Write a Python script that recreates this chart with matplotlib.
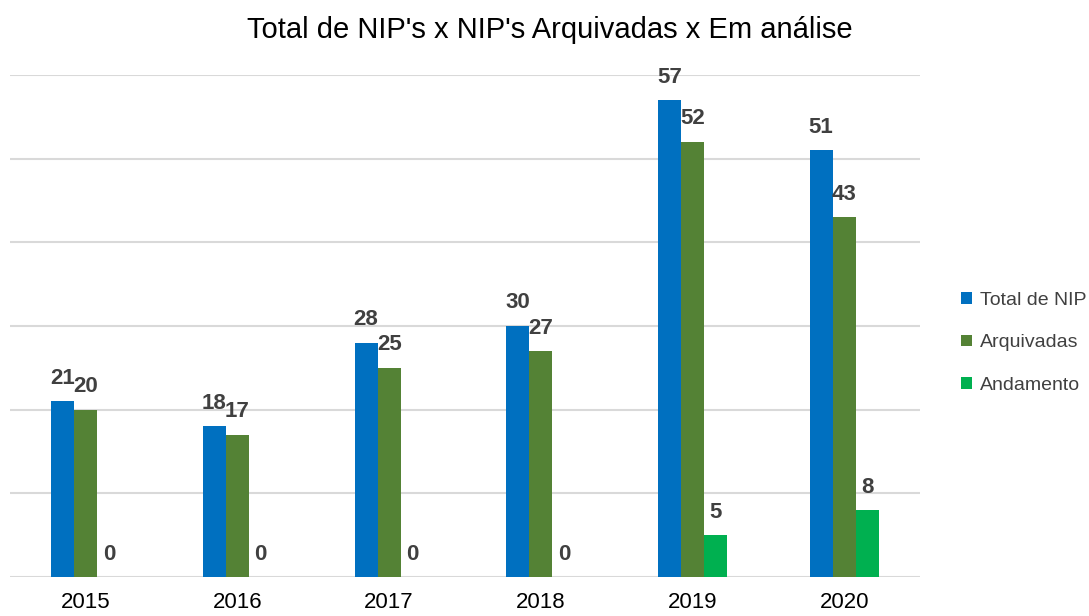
import matplotlib.pyplot as plt
import numpy as np

anos = ['2015', '2016', '2017', '2018', '2019', '2020']
total_nip = [21, 18, 28, 30, 57, 51]
arquivadas = [20, 17, 25, 27, 52, 43]
andamento = [0, 0, 0, 0, 5, 8]
series_names = ['Total de NIP', 'Arquivadas', 'Andamento']

cores = ['#0070C0', '#548235', '#00B050']
fonte = ['Liberation Sans', 'DejaVu Sans']

fig = plt.figure(figsize=(10.89, 6.16), dpi=100)
ax = fig.add_axes([10/1089, 39/616, 910/1089, 502/616])

x = np.arange(len(anos))
w = 0.152
series = [total_nip, arquivadas, andamento]
for i, (vals, cor, nome) in enumerate(zip(series, cores, series_names)):
    pos = x + (i - 1) * w
    ax.bar(pos, vals, width=w, color=cor, label=nome, zorder=3)
    for xb, v in zip(pos, vals):
        ax.annotate(str(v), (xb, v), xytext=(0, 9), textcoords='offset points',
                    ha='center', va='bottom', fontsize=16, fontweight='bold',
                    color='#404040', family=fonte)

ax.set_xlim(-0.5, len(anos) - 0.5)
ax.set_ylim(0, 60)
ax.set_yticks(np.arange(0, 61, 10))
ax.yaxis.grid(True, color='#D9D9D9', lw=1.5, zorder=0)
ax.tick_params(axis='y', left=False, labelleft=False)
ax.set_xticks(x)
ax.set_xticklabels(anos, fontsize=16, family=fonte, color='#000000')
ax.tick_params(axis='x', length=0, pad=11)
for s in ax.spines.values():
    s.set_visible(False)

fig.text(550/1089, 1 - 30/616, "Total de NIP's x NIP's Arquivadas x Em análise",
         ha='center', va='center', fontsize=21, family=fonte)

leg = fig.legend(loc='upper left', bbox_to_anchor=(961/1089, 1 - 292/616), frameon=False,
                 handlelength=0.55, handleheight=0.55, handletextpad=0.45, labelspacing=1.3,
                 prop={'family': fonte, 'size': 14}, borderaxespad=0, borderpad=0)
for t in leg.get_texts():
    t.set_color('#404040')

fig.savefig('out.png', dpi=100)
